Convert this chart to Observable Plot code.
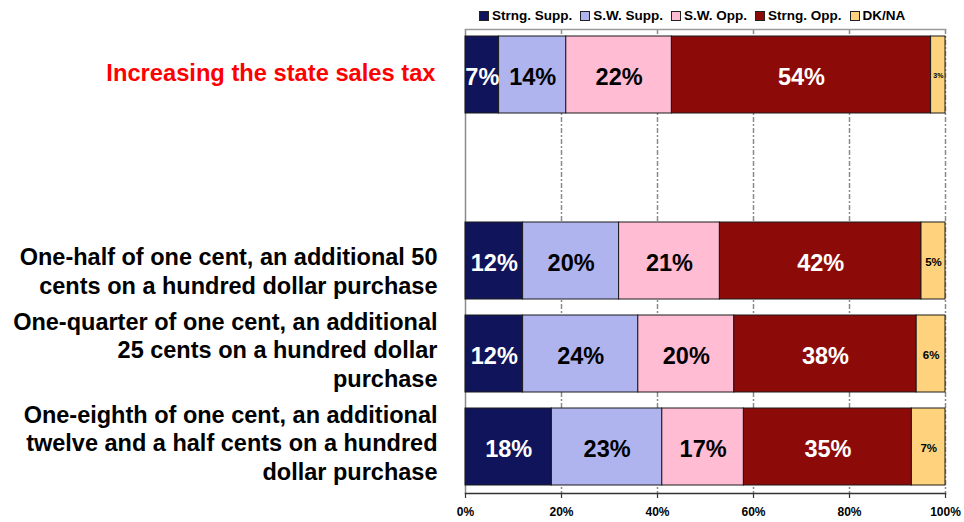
<!DOCTYPE html>
<html>
<head>
<meta charset="utf-8">
<script src="https://cdn.jsdelivr.net/npm/d3@7"></script>
<script src="https://cdn.jsdelivr.net/npm/@observablehq/plot@0.6"></script>
<style>
  html, body { margin: 0; padding: 0; background: #fff; }
  body { width: 964px; height: 522px; position: relative; overflow: hidden; font-family: "Liberation Sans", Arial, sans-serif; }
  #legend { position: absolute; top: 8px; left: 479px; display: flex; align-items: center; font-size: 13.5px; font-weight: bold; color: #000; white-space: nowrap; }
  #legend .item { display: flex; align-items: center; margin-right: 8px; }
  #legend .sw { width: 8px; height: 8px; border: 1px solid #222; margin-right: 3px; }
  #chart { position: absolute; top: 0; left: 0; }
</style>
</head>
<body>
<div id="chart"></div>
<div id="legend"></div>
<script>
// ---- data ----
const questions = [
  "Increasing the state sales tax",
  "One-half of one cent, an additional 50\ncents on a hundred dollar purchase",
  "One-quarter of one cent, an additional\n25 cents on a hundred dollar\npurchase",
  "One-eighth of one cent, an additional\ntwelve and a half cents on a hundred\ndollar purchase"
];
const rowOrder = [questions[0], " ", questions[1], questions[2], questions[3]];
const responses = ["Strng. Supp.", "S.W. Supp.", "S.W. Opp.", "Strng. Opp.", "DK/NA"];
const strngSupp = [7, 12, 12, 18];
const swSupp    = [14, 20, 24, 23];
const swOpp     = [22, 21, 20, 17];
const strngOpp  = [54, 42, 38, 35];
const dkna      = [3, 5, 6, 7];
const colors = ["#10145a", "#afb4ef", "#ffbcd3", "#8c0b08", "#ffd37d"];
const xTicks = [0, 20, 40, 60, 80, 100];

// ---- build table ----
const series = [strngSupp, swSupp, swOpp, strngOpp, dkna];
const table = [];
questions.forEach((q, i) => {
  let acc = 0;
  responses.forEach((r, j) => {
    const v = series[j][i];
    table.push({question: q, response: r, value: v, x1: acc, x2: acc + v});
    acc += v;
  });
});
const mid = d => (d.x1 + d.x2) / 2;
const lightText = new Set(["Strng. Supp.", "Strng. Opp."]);

const font = "'Liberation Sans', Arial, sans-serif";

const chart = Plot.plot({
  width: 964,
  height: 522,
  marginTop: 29,
  marginBottom: 29,
  marginLeft: 465,
  marginRight: 19,
  style: {fontFamily: font, background: "white", color: "#000", overflow: "visible"},
  x: {domain: [0, 100], axis: null},
  y: {type: "band", domain: rowOrder, paddingInner: 0.172, paddingOuter: 0.075, axis: null},
  color: {domain: responses, range: colors},
  marks: [
    Plot.ruleX(xTicks.slice(1), {stroke: "#8a8a8a", strokeWidth: 1.5, strokeDasharray: "5,2,2,2"}),
    Plot.ruleX([0], {stroke: "#8a8a8a", strokeWidth: 1.5}),
    Plot.frame({anchor: "top", stroke: "#9a9a9a", strokeWidth: 1.5}),
    Plot.frame({anchor: "bottom", stroke: "#333", strokeWidth: 1.5}),
    Plot.axisX({ticks: xTicks, tickFormat: d => d + "%", tickSize: 5, tickPadding: 9, fontSize: 12, fontWeight: "bold", stroke: "#333", strokeWidth: 1.2}),
    Plot.barX(table, {x1: "x1", x2: "x2", y: "question", fill: "response", stroke: "#1a1a1a", strokeWidth: 1}),
    Plot.text(table.filter(d => lightText.has(d.response)), {
      x: mid, y: "question", text: d => d.value + "%",
      fill: "#fff", fontSize: 23.5, fontWeight: "bold", dy: 2.5
    }),
    Plot.text(table.filter(d => d.response !== "DK/NA" && !lightText.has(d.response)), {
      x: mid, y: "question", text: d => d.value + "%",
      fill: "#000", fontSize: 23.5, fontWeight: "bold", dy: 2.5
    }),
    Plot.text(table.filter(d => d.response === "DK/NA"), {
      x: mid, y: "question", text: d => d.value + "%",
      fill: "#000", fontSize: d => d.value < 4 ? 7 : 11.5, fontWeight: "bold", dy: 1
    }),
    Plot.text([questions[0]], {
      x: 0, y: d => d, text: d => d, textAnchor: "end", dx: -30, dy: -2,
      fill: "#ff0000", fontSize: 23.7, fontWeight: "bold"
    }),
    Plot.text(questions.slice(1), {
      x: 0, y: d => d, text: d => d, textAnchor: "end", dx: -28, dy: 32.5,
      lineAnchor: "bottom", lineHeight: 1.2,
      fill: "#000", fontSize: 23.5, fontWeight: "bold"
    })
  ]
});
document.getElementById("chart").appendChild(chart);

// ---- legend ----
const legend = document.getElementById("legend");
responses.forEach((r, i) => {
  const item = document.createElement("div");
  item.className = "item";
  const sw = document.createElement("div");
  sw.className = "sw";
  sw.style.background = colors[i];
  const t = document.createElement("span");
  t.textContent = r;
  item.appendChild(sw);
  item.appendChild(t);
  legend.appendChild(item);
});
</script>
</body>
</html>
